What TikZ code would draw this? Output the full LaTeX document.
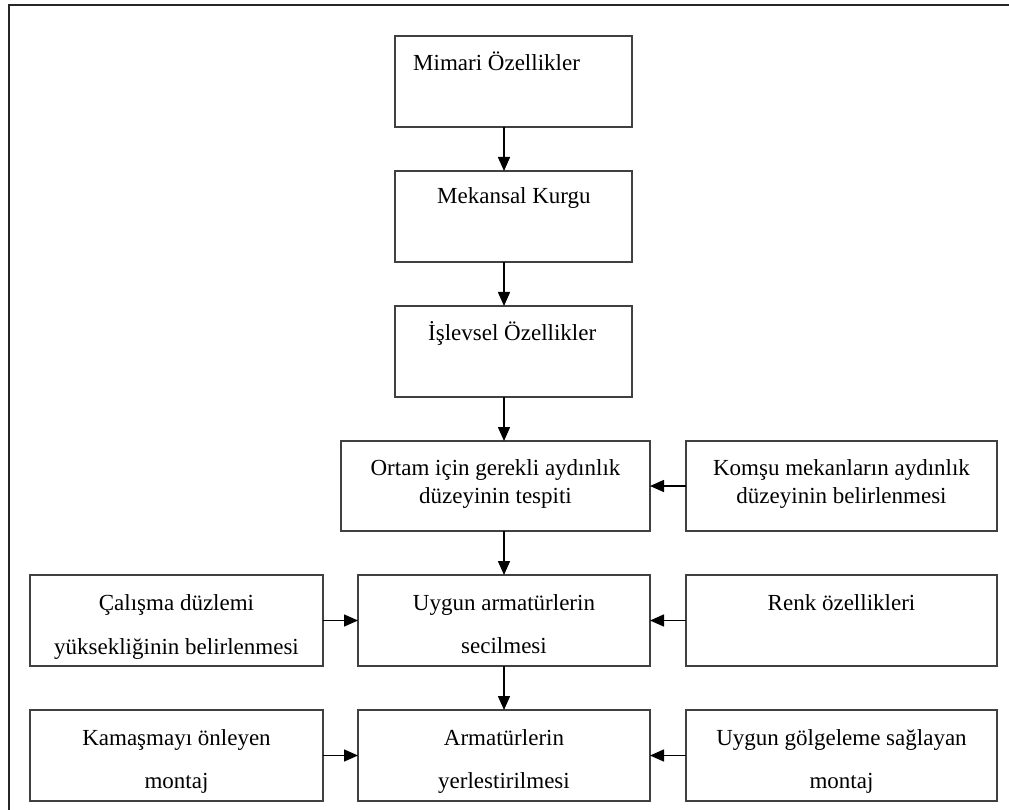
\documentclass[tikz,border=0pt]{standalone}
\usepackage{fontspec}
\setmainfont{Liberation Serif}
\usetikzlibrary{arrows.meta}
\begin{document}
\begin{tikzpicture}[x=1pt,y=-1pt,
  box/.style={draw=black!75, line width=1.4pt, inner sep=0pt, outer sep=0pt, rectangle},
  tb/.style={box, minimum width=237pt, minimum height=91pt},
  mb/.style={box, minimum width=292pt, minimum height=91pt},
  sb/.style={box, minimum width=311pt, minimum height=90pt},
  txt/.style={inner sep=0pt, font=\fontsize{23}{23}\selectfont, anchor=base},
  arr/.style={draw=black, line width=1.5pt, -{Triangle[length=14pt,width=12pt]}}]
\useasboundingbox (0,0) rectangle (1009,810);
\draw[line width=2pt, black!85] (9,810) -- (9,5) -- (1009,5);
\coordinate (ax) at (504,0);
% boxes
\node[tb] (b1) at (513.5,81.5) {};
\node[tb] (b2) at (513.5,216.5) {};
\node[tb] (b3) at (513.5,351.5) {};
\node[box, minimum width=309pt, minimum height=90pt] (b4) at (495.5,486) {};
\node[sb] (k) at (841.5,486) {};
\node[mb] (b5) at (504,620.5) {};
\node[box, minimum width=293pt, minimum height=91pt] (c) at (176.5,620.5) {};
\node[box, minimum width=311pt, minimum height=91pt] (r) at (841.5,620.5) {};
\node[mb] (b6) at (504,755.5) {};
\node[box, minimum width=293pt, minimum height=91pt] (km) at (176.5,755.5) {};
\node[box, minimum width=311pt, minimum height=91pt] (ug) at (841.5,755.5) {};
% texts
\node[txt, anchor=base west] (t1) at (413,71) {Mimari Özellikler};
\node[txt, anchor=base west] (t2) at (437,204) {Mekansal Kurgu};
\node[txt, anchor=base west] (t3) at (428,340) {İşlevsel Özellikler};
\node[txt] (t4a) at (495.5,475) {Ortam için gerekli aydınlık};
\node[txt] (t4b) at (495.5,503) {düzeyinin tespiti};
\node[txt] (tka) at (841.5,475) {Komşu mekanların aydınlık};
\node[txt] (tkb) at (841.5,503) {düzeyinin belirlenmesi};
\node[txt] (tca) at (176.5,610) {Çalışma düzlemi};
\node[txt] (tcb) at (176.5,654) {yüksekliğinin belirlenmesi};
\node[txt] (t5a) at (504,610) {Uygun armatürlerin};
\node[txt] (t5b) at (504,653) {secilmesi};
\node[txt] (tr) at (841.5,610) {Renk özellikleri};
\node[txt] (tkma) at (176.5,745) {Kamaşmayı önleyen};
\node[txt] (tkmb) at (176.5,788) {montaj};
\node[txt] (t6a) at (504,745) {Armatürlerin};
\node[txt] (t6b) at (504,788) {yerlestirilmesi};
\node[txt] (tuga) at (841.5,745) {Uygun gölgeleme sağlayan};
\node[txt] (tugb) at (841.5,788) {montaj};
% arrows
\draw[arr] (b1.south -| ax) -- (b2.north -| ax);
\draw[arr] (b2.south -| ax) -- (b3.north -| ax);
\draw[arr] (b3.south -| ax) -- (b4.north -| ax);
\draw[arr] (b4.south -| ax) -- (b5.north -| ax);
\draw[arr] (b5.south -| ax) -- (b6.north -| ax);
\draw[arr] (k.west) -- (k.west -| b4.east);
\draw[arr] (c.east) -- (c.east -| b5.west);
\draw[arr] (r.west) -- (r.west -| b5.east);
\draw[arr] (km.east) -- (km.east -| b6.west);
\draw[arr] (ug.west) -- (ug.west -| b6.east);
\end{tikzpicture}
\end{document}
